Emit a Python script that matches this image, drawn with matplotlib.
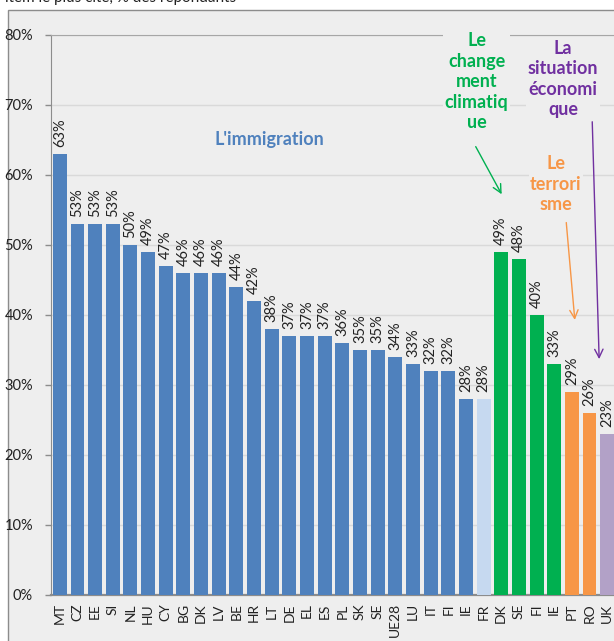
import matplotlib
matplotlib.use("Agg")
import matplotlib.pyplot as plt
from matplotlib.patches import Rectangle

plt.rcParams['font.family'] = ['Lato', 'DejaVu Sans']

countries = ["MT", "CZ", "EE", "SI", "NL", "HU", "CY", "BG", "DK", "LV", "BE", "HR",
             "LT", "DE", "EL", "ES", "PL", "SK", "SE", "UE28", "LU", "IT", "FI", "IE",
             "FR", "DK", "SE", "FI", "IE", "PT", "RO", "UK"]
values = [63, 53, 53, 53, 50, 49, 47, 46, 46, 46, 44, 42,
          38, 37, 37, 37, 36, 35, 35, 34, 33, 32, 32, 28,
          28, 49, 48, 40, 33, 29, 26, 23]
groups = ["imm"] * 24 + ["imm_fr"] + ["clim"] * 4 + ["terr"] * 2 + ["eco"]
yticks = [0, 10, 20, 30, 40, 50, 60, 70, 80]

group_colors = {"imm": "#4F81BD", "imm_fr": "#C6D9F0", "clim": "#00B050",
                "terr": "#F79646", "eco": "#B2A1C7"}

W, H = 614, 641
fig = plt.figure(figsize=(W / 100, H / 100), dpi=100)
fig.patch.set_facecolor("white")

bg = "#EEEEEE"
fig.patches.append(Rectangle((7.5 / W, -0.1), 1.2, (H - 10) / H + 0.1,
                             transform=fig.transFigure, facecolor=bg,
                             edgecolor="#8C8C8C", lw=1, zorder=-5))

fig.text(5 / W, (H - 2) / H, "item le plus cité, % des répondants",
         ha="left", va="baseline", fontsize=11, color="#222222")

ax = fig.add_axes([51 / W, 46 / H, 565 / W, 560 / H])
ax.set_zorder(2)
ax.set_facecolor(bg)

x = list(range(len(values)))
cols = [group_colors[g] for g in groups]
ax.bar(x, values, width=0.79, color=cols, zorder=3)

for xi, v in zip(x, values):
    ax.annotate(f"{v}%", (xi, v), xytext=(0, 5), textcoords="offset points",
                rotation=90, ha="center", va="bottom", fontsize=10.5,
                color="#222222", zorder=4)

ax.set_xlim(-0.5, len(values) - 0.5)
ax.set_ylim(0, 80)
ax.set_yticks(yticks)
ax.set_yticklabels([f"{t}%" for t in yticks], fontsize=10.5, color="#222222")
ax.set_xticks(x)
ax.set_xticklabels(countries, rotation=90, fontsize=10, color="#222222")
ax.tick_params(axis="x", length=0, pad=6)
ax.tick_params(axis="y", length=4, width=1, color="#8C8C8C", pad=9)

ax.grid(axis="y", color="#D9D9D9", lw=1, zorder=0)
ax.set_axisbelow(True)
ax.spines["right"].set_visible(False)
ax.spines["left"].set_color("#8C8C8C")
ax.spines["top"].set_color("#A6A6A6")
ax.spines["bottom"].set_color("#8C8C8C")
ax.spines["bottom"].set_linewidth(1.6)

# Annotations (positions in data coords)
ax.text(11.86, 65.0, "L'immigration", color="#4F81BD", fontsize=13,
        fontweight="bold", ha="center", va="center", zorder=5)

ax.text(23.6, 73.3, "Le\nchange\nment\nclimatiq\nue", color="#00B050", fontsize=13,
        fontweight="bold", ha="center", va="center", linespacing=1.25, zorder=5,
        bbox=dict(facecolor=bg, edgecolor="none", pad=1))
ax.annotate("", xy=(25.1, 56.9), xytext=(23.48, 64.4),
            arrowprops=dict(arrowstyle="->", color="#00B050", lw=1,
                            mutation_scale=15), zorder=5)

ax.text(28.5, 73.7, "La\nsituation\néconomi\nque", color="#7030A0", fontsize=13,
        fontweight="bold", ha="center", va="center", linespacing=1.25, zorder=5,
        bbox=dict(facecolor=bg, edgecolor="none", pad=1))
ax.annotate("", xy=(30.55, 33.3), xytext=(30.15, 68.0),
            arrowprops=dict(arrowstyle="->", color="#7030A0", lw=1,
                            mutation_scale=15), zorder=5)

ax.text(28.1, 58.7, "Le\nterrori\nsme", color="#F79646", fontsize=13,
        fontweight="bold", ha="center", va="center", linespacing=1.25, zorder=5,
        bbox=dict(facecolor=bg, edgecolor="none", pad=1))
ax.annotate("", xy=(29.18, 38.9), xytext=(28.67, 53.6),
            arrowprops=dict(arrowstyle="->", color="#F79646", lw=1,
                            mutation_scale=15), zorder=5)

fig.savefig("out.png", dpi=100, facecolor=fig.get_facecolor())
